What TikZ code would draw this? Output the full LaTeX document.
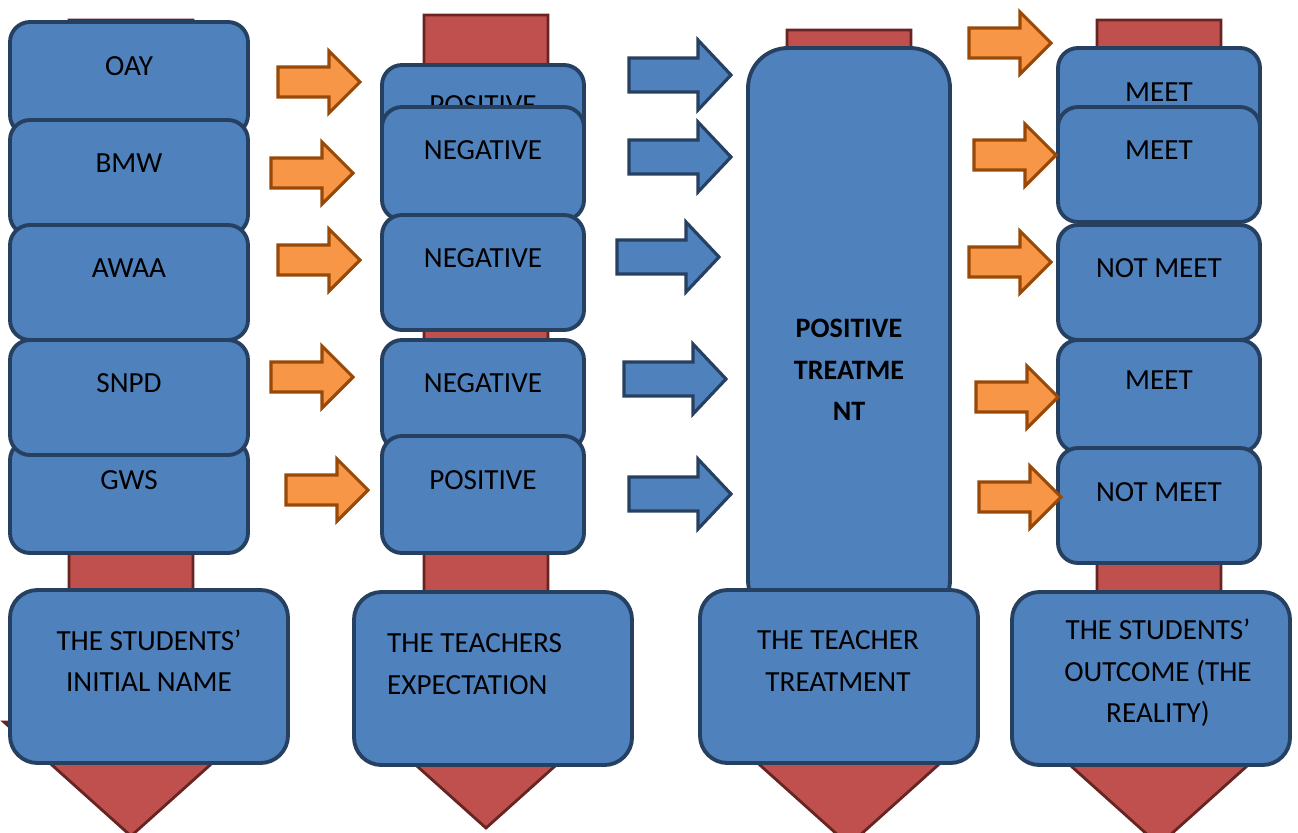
\documentclass[tikz,border=0pt]{standalone}
\usepackage{fontspec}
\setmainfont{Carlito}
\usetikzlibrary{positioning}
\definecolor{boxblue}{RGB}{79,129,189}
\definecolor{boxline}{RGB}{38,64,97}
\definecolor{redfill}{RGB}{192,80,77}
\definecolor{redline}{RGB}{102,36,34}
\definecolor{orfill}{RGB}{247,150,70}
\definecolor{orline}{RGB}{152,72,7}

\begin{document}
\begin{tikzpicture}[x=0.2mm,y=-0.2mm]
\tikzstyle{redarr}=[fill=redfill,draw=redline,line width=1.6pt,line join=miter];
\tikzstyle{blk}=[fill=boxblue,draw=boxline,line width=2.2pt,rounded corners=4mm];
\tikzstyle{lbl}=[font=\fontsize{16.6}{23.5}\selectfont,text=black,align=center];
\tikzstyle{orarr}=[fill=orfill,draw=orline,line width=1.8pt,line join=miter];
\tikzstyle{bluarr}=[fill=boxblue,draw=boxline,line width=1.8pt,line join=miter];

\useasboundingbox (0,0) rectangle (1298,832);

% red down arrows behind everything
\foreach \cx/\top/\tip in {131/20/836, 486/15/828, 849/30/845, 1159/20/845}
  \filldraw[redarr] (\cx-62,\top) -- (\cx+62,\top) -- (\cx+62,\tip-114) -- (\cx+127,\tip-114)
    -- (\cx,\tip) -- (\cx-127,\tip-114) -- (\cx-62,\tip-114) -- cycle;

% column 1: initial names
\foreach \t/\b/\ty/\txt [count=\i] in {440/553/480/GWS, 22/135/66/OAY, 120/235/163/BMW, 225/340/268/AWAA, 340/455/383/SNPD} {
  \filldraw[blk] (10,\t) rectangle (248,\b);
  \node[lbl] (name\i) at (129,\ty) {\txt};
}

% column 2: expectation
\foreach \t/\b/\ty/\txt [count=\i] in {65/180/105/POSITIVE, 107/220/150/NEGATIVE, 215/330/258/NEGATIVE, 340/450/383/NEGATIVE, 436/553/480/POSITIVE} {
  \filldraw[blk] (382,\t) rectangle (584,\b);
  \node[lbl] (exp\i) at (483,\ty) {\txt};
}

% column 3: treatment
\filldraw[blk,rounded corners=8mm] (748,48) rectangle (950,620);
\node[lbl,font=\fontsize{16}{23.5}\selectfont\bfseries] (treat) at (849,370) {POSITIVE\\TREATME\\NT};

% column 4: outcome
\foreach \t/\b/\ty/\txt [count=\i] in {48/160/92/MEET, 107/222/150/MEET, 225/340/268/NOT MEET, 340/452/380/MEET, 448/563/492/NOT MEET} {
  \filldraw[blk] (1058,\t) rectangle (1260,\b);
  \node[lbl] (out\i) at (1159,\ty) {\txt};
}

% captions
\filldraw[blk,rounded corners=5.5mm] (10,590) rectangle (288,763);
\node[lbl] (cap1) at (149,661) {THE STUDENTS’\\INITIAL NAME};
\filldraw[blk,rounded corners=5.5mm] (354,592) rectangle (632,765);
\node[lbl,align=left,anchor=west] (cap2) at (381,664) {THE TEACHERS\\EXPECTATION};
\filldraw[blk,rounded corners=5.5mm] (700,590) rectangle (978,763);
\node[lbl] (cap3) at (838,661) {THE TEACHER\\TREATMENT};
\filldraw[blk,rounded corners=5.5mm] (1012,592) rectangle (1290,765);
\node[lbl] (cap4) at (1158,673) {THE STUDENTS’\\OUTCOME (THE\\REALITY)};

% block arrows
\foreach \x/\y in {278/82, 271/173, 278/260, 271/377, 286/490, 969/43, 974/155, 969/262, 976/397, 979/497}
  \filldraw[orarr] (\x,\y-15) -- (\x+51,\y-15) -- (\x+51,\y-31) -- (\x+82,\y)
    -- (\x+51,\y+31) -- (\x+51,\y+15) -- (\x,\y+15) -- cycle;
\foreach \x/\y in {629/75, 629/157, 617/257, 624/379, 629/494}
  \filldraw[bluarr] (\x,\y-17) -- (\x+69,\y-17) -- (\x+69,\y-35) -- (\x+102,\y)
    -- (\x+69,\y+35) -- (\x+69,\y+17) -- (\x,\y+17) -- cycle;

\end{tikzpicture}
\end{document}
